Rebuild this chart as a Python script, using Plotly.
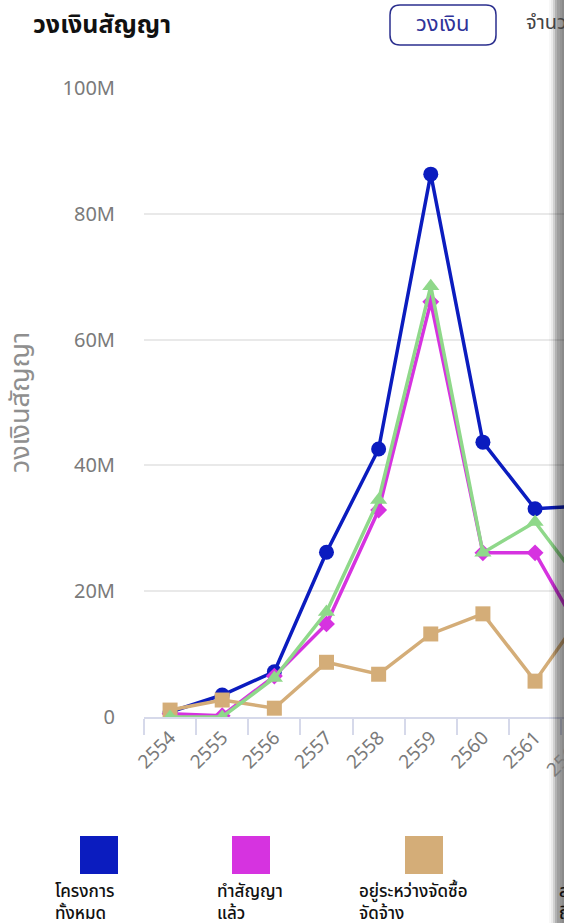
import plotly.graph_objects as go

# ---------------- data ----------------
years = ["2554", "2555", "2556", "2557", "2558", "2559", "2560", "2561", "2562"]
series_names = ["โครงการ<br>ทั้งหมด", "ทำสัญญา<br>แล้ว", "อยู่ระหว่างจัดซื้อ<br>จัดจ้าง", "ลงนามแล้ว<br>ถึงกำหนด"]
total_proj = [0.8e6, 3.5e6, 7.2e6, 26.2e6, 42.6e6, 86.3e6, 43.7e6, 33.1e6, 33.6e6]
contracted = [0.5e6, 0.2e6, 6.5e6, 14.8e6, 32.9e6, 66.0e6, 26.1e6, 26.1e6, 11.5e6]
in_progress = [1.1e6, 2.7e6, 1.4e6, 8.7e6, 6.8e6, 13.2e6, 16.4e6, 5.7e6, 17.5e6]
signed = [0.0, 0.0, 6.2e6, 16.7e6, 34.5e6, 68.5e6, 26.1e6, 31.0e6, 20.0e6]
ytick_vals = [0, 20e6, 40e6, 60e6, 80e6, 100e6]
ytick_text = ["0", "20M", "40M", "60M", "80M", "100M"]

colors = ["#0b1cbf", "#d633e0", "#d4ad78", "#8fd88a"]
symbols = ["circle", "diamond", "square", "triangle-up"]
msizes = [15, 13, 15, 15]

FONT = "Noto Sans Thai, Noto Sans, Roboto, sans-serif"

W, H = 564, 923
L, R_PX, T, B = 144, 564, 88, 717
PW, PH = R_PX - L, B - T


def px(x):
    return (x - L) / PW


def py(y):
    return (B - y) / PH


fig = go.Figure()
data = [total_proj, contracted, in_progress, signed]
for i in range(4):
    fig.add_trace(go.Scatter(
        x=years, y=data[i], mode="lines+markers",
        name=series_names[i],
        line=dict(color=colors[i], width=3.5),
        marker=dict(symbol=symbols[i], size=msizes[i], color=colors[i]),
        cliponaxis=True, showlegend=False,
    ))

spacing = 52.14
right_idx = (R_PX - L) / spacing - 0.5

fig.update_layout(
    width=W, height=H,
    margin=dict(l=L, r=0, t=T, b=H - B, pad=0),
    paper_bgcolor="white", plot_bgcolor="white",
    font=dict(family=FONT),
    xaxis=dict(
        type="category", range=[-0.5, right_idx],
        showgrid=False, showline=True, linecolor="#d6d9ea", linewidth=2,
        ticks="outside", tickson="boundaries", ticklen=16, tickwidth=2, tickcolor="#d6d9ea",
        tickangle=-45, tickfont=dict(size=19, color="#7a7a7a", family=FONT),
        zeroline=False,
    ),
    yaxis=dict(
        range=[0, 100e6], tickvals=ytick_vals, ticktext=ytick_text,
        showgrid=True, gridcolor="#e9e9e9", gridwidth=1.5, zeroline=False,
        showline=False, ticks="", ticklabelstandoff=28,
        tickfont=dict(size=20, color="#7a7a7a", family=FONT),
        title=dict(text="วงเงินสัญญา", font=dict(size=27, color="#8f8f8f", family=FONT), standoff=26),
    ),
)

# Header
fig.add_annotation(x=px(31), y=py(25), xref="paper", yref="paper", text="<b>วงเงินสัญญา</b>",
                   showarrow=False, xanchor="left", yanchor="middle",
                   font=dict(size=25, color="#111111", family=FONT))
# Button
bx0, bx1, by0, by1, r = 390, 496, 5, 45, 10
path = (f"M {px(bx0+r)} {py(by0)} L {px(bx1-r)} {py(by0)} Q {px(bx1)} {py(by0)} {px(bx1)} {py(by0+r)} "
        f"L {px(bx1)} {py(by1-r)} Q {px(bx1)} {py(by1)} {px(bx1-r)} {py(by1)} "
        f"L {px(bx0+r)} {py(by1)} Q {px(bx0)} {py(by1)} {px(bx0)} {py(by1-r)} "
        f"L {px(bx0)} {py(by0+r)} Q {px(bx0)} {py(by0)} {px(bx0+r)} {py(by0)} Z")
fig.add_shape(type="path", path=path, xref="paper", yref="paper",
              line=dict(color="#2b2f8e", width=1.5), fillcolor="white")
fig.add_annotation(x=px(443), y=py(24), xref="paper", yref="paper", text="วงเงิน",
                   showarrow=False, xanchor="center", yanchor="middle",
                   font=dict(size=22, color="#2f3399", family=FONT))
fig.add_annotation(x=px(524), y=py(23), xref="paper", yref="paper", text="จำนวน",
                   showarrow=False, xanchor="left", yanchor="middle",
                   font=dict(size=20, color="#444444", family=FONT))

# x tick label for the cut category (partially visible)
fig.add_annotation(x=px(594), y=py(730), xref="paper", yref="paper", text=years[-1],
                   showarrow=False, xanchor="right", yanchor="top", textangle=-45,
                   font=dict(size=19, color="#7a7a7a", family=FONT))

# Legend (manual)
sq_x = [80, 232, 405, 580]
txt_x = [53, 215, 357, 557]
for i in range(4):
    fig.add_shape(type="rect", xref="paper", yref="paper",
                  x0=px(sq_x[i]), x1=px(sq_x[i] + 38), y0=py(836), y1=py(874),
                  fillcolor=colors[i], line=dict(width=0))
    fig.add_annotation(x=px(txt_x[i]), y=py(877), xref="paper", yref="paper",
                       text=series_names[i], showarrow=False, xanchor="left", yanchor="top",
                       align="left", font=dict(size=17, color="#111111", family=FONT, weight=500))

# right-side drawer shadow
steps = [(549, 0.03), (551, 0.08), (553, 0.18), (555, 0.30), (557, 0.38), (560, 0.42), (562, 0.46)]
for j, (x0, op) in enumerate(steps):
    x1 = steps[j + 1][0] if j + 1 < len(steps) else 564
    fig.add_shape(type="rect", xref="paper", yref="paper", x0=px(x0), x1=px(x1),
                  y0=py(H), y1=py(0), fillcolor="black", opacity=op, line=dict(width=0), layer="above")

fig.write_html("out.html", config={"displayModeBar": False},
               post_script="document.body.style.margin='0';document.body.style.padding='0';")
